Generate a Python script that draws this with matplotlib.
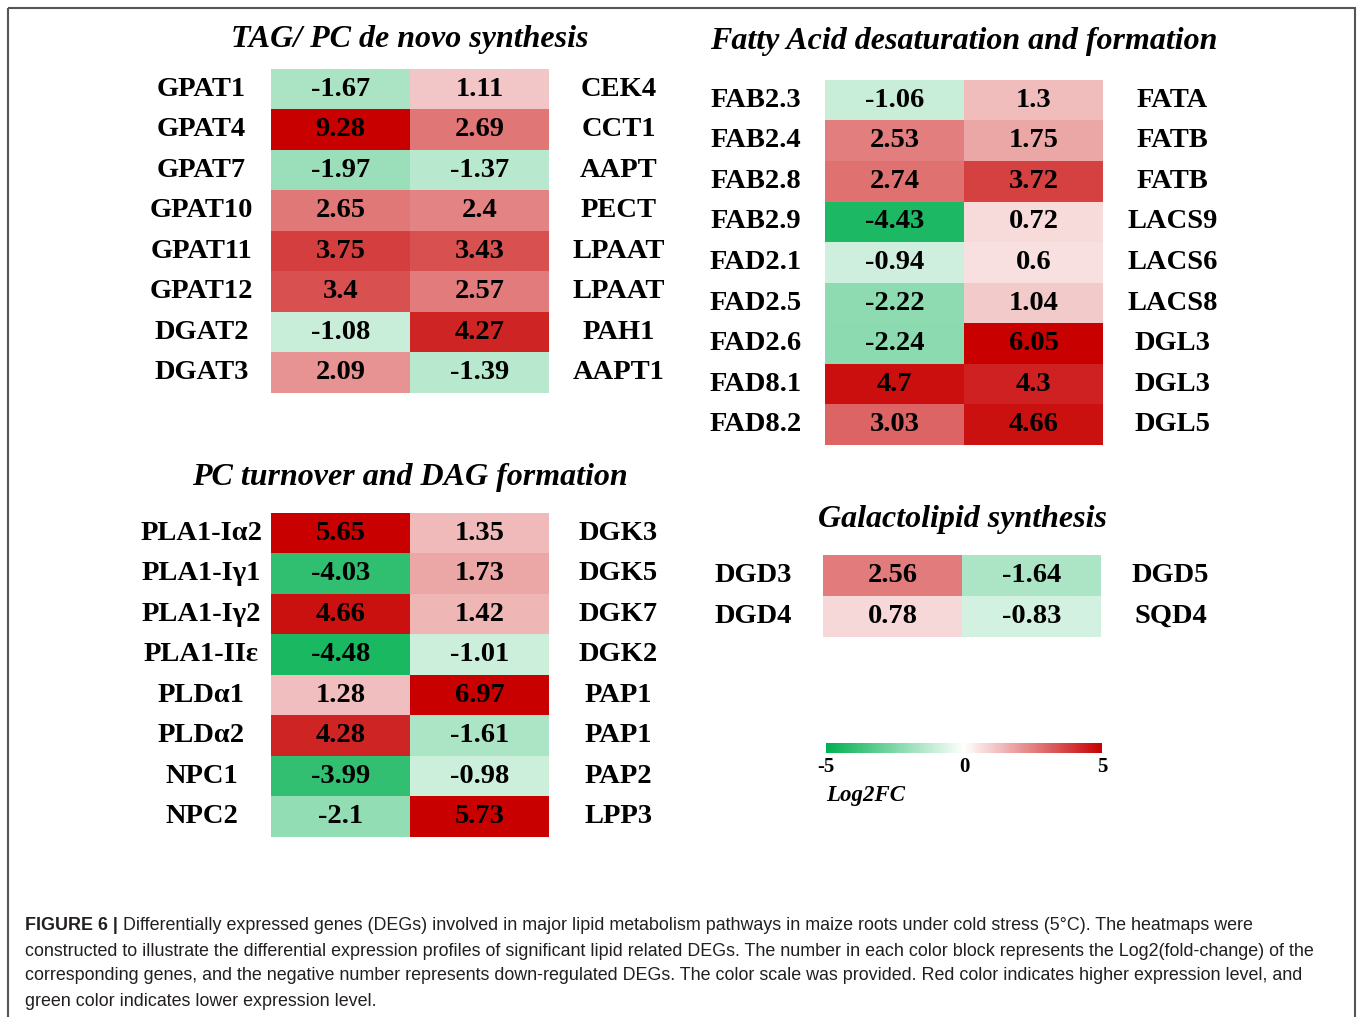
import matplotlib
matplotlib.use("Agg")
import matplotlib.pyplot as plt
import numpy as np
from matplotlib.colors import LinearSegmentedColormap
from matplotlib.patches import Rectangle

plt.rcParams["axes.unicode_minus"] = False

W, H = 1357, 1017

# --- data ---
tag_left = ["GPAT1", "GPAT4", "GPAT7", "GPAT10", "GPAT11", "GPAT12", "DGAT2", "DGAT3"]
tag_right = ["CEK4", "CCT1", "AAPT", "PECT", "LPAAT", "LPAAT", "PAH1", "AAPT1"]
tag_c1 = [-1.67, 9.28, -1.97, 2.65, 3.75, 3.4, -1.08, 2.09]
tag_c2 = [1.11, 2.69, -1.37, 2.4, 3.43, 2.57, 4.27, -1.39]

fa_left = ["FAB2.3", "FAB2.4", "FAB2.8", "FAB2.9", "FAD2.1", "FAD2.5", "FAD2.6", "FAD8.1", "FAD8.2"]
fa_right = ["FATA", "FATB", "FATB", "LACS9", "LACS6", "LACS8", "DGL3", "DGL3", "DGL5"]
fa_c1 = [-1.06, 2.53, 2.74, -4.43, -0.94, -2.22, -2.24, 4.7, 3.03]
fa_c2 = [1.3, 1.75, 3.72, 0.72, 0.6, 1.04, 6.05, 4.3, 4.66]

pc_left = ["PLA1-Iα2", "PLA1-Iγ1", "PLA1-Iγ2", "PLA1-IIε", "PLDα1", "PLDα2", "NPC1", "NPC2"]
pc_right = ["DGK3", "DGK5", "DGK7", "DGK2", "PAP1", "PAP1", "PAP2", "LPP3"]
pc_c1 = [5.65, -4.03, 4.66, -4.48, 1.28, 4.28, -3.99, -2.1]
pc_c2 = [1.35, 1.73, 1.42, -1.01, 6.97, -1.61, -0.98, 5.73]

gal_left = ["DGD3", "DGD4"]
gal_right = ["DGD5", "SQD4"]
gal_c1 = [2.56, 0.78]
gal_c2 = [-1.64, -0.83]

cmap = LinearSegmentedColormap.from_list("gwr", ["#00B050", "#FFFFFF", "#C80000"])
SERIF = "Liberation Serif"
FS = 20.5


def px(x0, y0, x1, y1):
    return [x0 / W, 1 - y1 / H, (x1 - x0) / W, (y1 - y0) / H]


def panel(fig, box, title, title_y, left, right, c1, c2):
    ax = fig.add_axes(px(*box))
    vals = np.column_stack([c1, c2])
    im = ax.imshow(vals, cmap=cmap, vmin=-5, vmax=5, aspect="auto")
    for i in range(vals.shape[0]):
        for j in range(2):
            ax.text(j, i, str(vals[i, j]), ha="center", va="center",
                    fontsize=FS, fontweight="bold", family=SERIF)
        ax.text(-1.0, i, left[i], ha="center", va="center", fontsize=FS,
                fontweight="bold", family=SERIF, clip_on=False)
        ax.text(2.0, i, right[i], ha="center", va="center", fontsize=FS,
                fontweight="bold", family=SERIF, clip_on=False)
    ax.axis("off")
    cx = (box[0] + box[2]) / 2
    fig.text(cx / W, 1 - title_y / H, title, ha="center", va="center",
             fontsize=23, fontweight="bold", style="italic", family=SERIF)
    return im


fig = plt.figure(figsize=(W / 100, H / 100), dpi=100)
bg = fig.add_axes([0, 0, 1, 1])
bg.set_xlim(0, W)
bg.set_ylim(H, 0)
bg.axis("off")
bg.add_patch(Rectangle((8, 8), 1347, 1100, fill=False, edgecolor="#555555", lw=1.5))

im = panel(fig, (271, 69, 549, 393), "TAG/ PC de novo synthesis", 39,
           tag_left, tag_right, tag_c1, tag_c2)
panel(fig, (825, 80, 1103, 445), "Fatty Acid desaturation and formation", 42,
      fa_left, fa_right, fa_c1, fa_c2)
panel(fig, (271, 513, 549, 837), "PC turnover and DAG formation", 478,
      pc_left, pc_right, pc_c1, pc_c2)
panel(fig, (823, 555, 1101, 637), "Galactolipid synthesis", 520,
      gal_left, gal_right, gal_c1, gal_c2)

# colour scale
cax = fig.add_axes(px(826, 743, 1102, 753))
cb = fig.colorbar(im, cax=cax, orientation="horizontal", ticks=[-5, 0, 5])
cb.outline.set_visible(False)
cax.tick_params(length=0, pad=3)
for t in cax.get_xticklabels():
    t.set_fontsize(15)
    t.set_fontweight("bold")
    t.set_family(SERIF)
fig.text(826 / W, 1 - 796 / H, "Log2FC", ha="left", va="center", fontsize=16.5,
         fontweight="bold", style="italic", family=SERIF)

# caption
cap1 = ("Differentially expressed genes (DEGs) involved in major lipid metabolism pathways "
        "in maize roots under cold stress (5°C). The heatmaps were")
cap_rest = [
    "constructed to illustrate the differential expression profiles of significant lipid related DEGs. "
    "The number in each color block represents the Log2(fold-change) of the",
    "corresponding genes, and the negative number represents down-regulated DEGs. The color scale "
    "was provided. Red color indicates higher expression level, and",
    "green color indicates lower expression level.",
]
CAP = "Liberation Sans"
CFS = 12.9
lead = bg.text(25, 926, "FIGURE 6 |", ha="left", va="center", fontsize=CFS,
               fontweight="bold", family=CAP, color="#231f20")
bg.annotate(" " + cap1, xy=(1, 0.5), xycoords=lead, ha="left", va="center",
            fontsize=CFS, family=CAP, color="#231f20")
for k, line in enumerate(cap_rest):
    bg.text(25, 951 + 25 * k, line, ha="left", va="center", fontsize=CFS,
            family=CAP, color="#231f20")

fig.savefig("out.png", dpi=100)
